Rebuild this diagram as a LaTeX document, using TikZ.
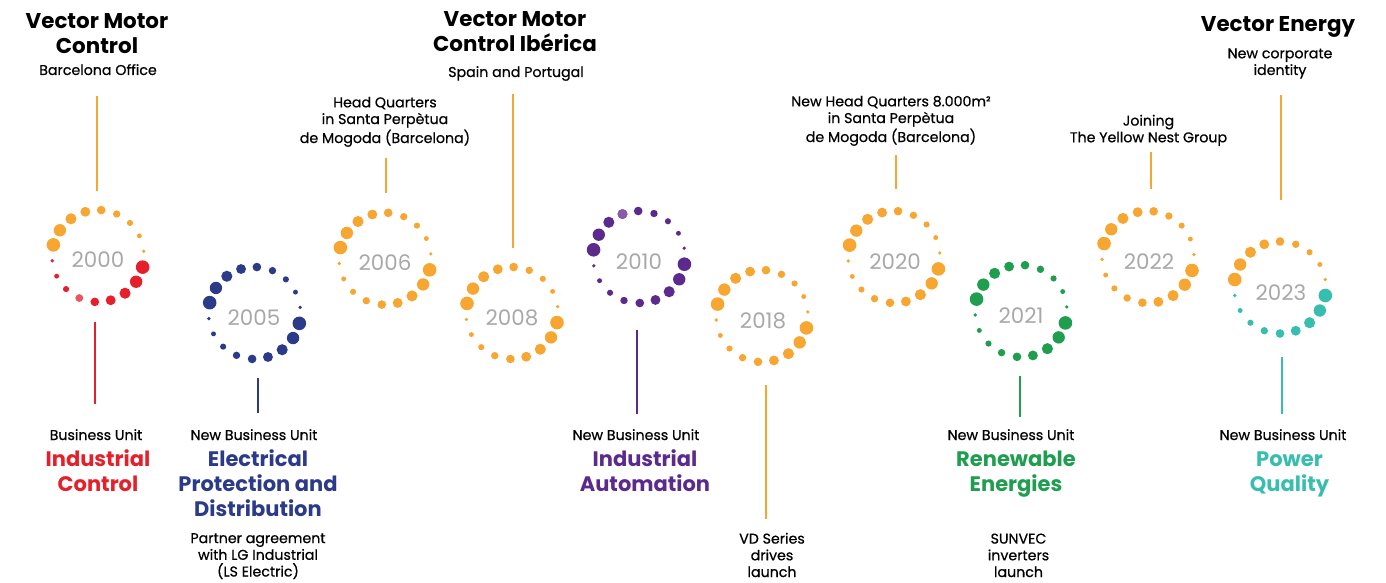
\documentclass[tikz,border=0pt]{standalone}
\usepackage{fontspec}
\setmainfont{Poppins}
\newfontfamily\medfont[FakeBold=0.6]{Poppins}
\definecolor{vorange}{HTML}{F8A632}
\definecolor{vred}{HTML}{E5202B}
\definecolor{vredlight}{HTML}{EC5560}
\definecolor{vblue}{HTML}{2C3A8A}
\definecolor{vpurple}{HTML}{5B2A8C}
\definecolor{vpurplelight}{HTML}{8A5CA8}
\definecolor{vgreen}{HTML}{1E9E4E}
\definecolor{vteal}{HTML}{37BEAF}
\definecolor{vgray}{HTML}{A8A8A8}
\newcommand\dotring[5]{%
  \foreach \i in {0,...,8}{%
    \fill[#3] ({#1+46*cos(#5-20*\i)},{#2-46*sin(#5-20*\i)}) circle[radius={(6.8-0.62*\i)*0.5pt}];
    \fill[#4] ({#1+46*cos(#5-180-20*\i)},{#2-46*sin(#5-180-20*\i)}) circle[radius={(6.8-0.62*\i)*0.5pt}];
  }}
\begin{document}
\begin{tikzpicture}[x=0.5pt,y=-0.5pt,
  title/.style={font=\bfseries\fontsize{10.7}{12.5}\selectfont, align=center, anchor=base, inner sep=0pt},
  sub/.style={font=\medfont\fontsize{7.1}{8.35}\selectfont, align=center, anchor=base, inner sep=0pt},
  unit/.style={font=\bfseries\fontsize{10.5}{12.4}\selectfont, align=center, anchor=base, inner sep=0pt},
  year/.style={font=\fontsize{10.7}{12}\selectfont, text=vgray, inner sep=0pt},
  vline/.style={line width=1.2pt}]
\useasboundingbox (0,0) rectangle (1386,583);

% ---- rings ----
\dotring{98}{256}{vorange}{vred}{166}
\fill[vredlight] ({98+46*cos(166-180-100)},{256-46*sin(166-180-100)}) circle[radius={(6.8-0.62*5)*0.5pt}];
\dotring{254.5}{313}{vblue}{vblue}{167}
\dotring{385}{258.7}{vorange}{vorange}{166}
\dotring{512}{313}{vorange}{vorange}{168}
\dotring{639}{257}{vpurple}{vpurple}{171}
\fill[vpurplelight] ({639+46*cos(171-60)},{257-46*sin(171-60)}) circle[radius={(6.8-0.62*3)*0.5pt}];
\dotring{762}{316}{vorange}{vorange}{165}
\dotring{894}{257}{vorange}{vorange}{165}
\dotring{1021}{311}{vgreen}{vgreen}{165}
\dotring{1148}{257}{vorange}{vorange}{163}
\dotring{1280}{287.5}{vorange}{vteal}{170}

% ---- years ----
\node[year] (y2000) at (98,260) {2000};
\node[year] (y2005) at (254,318) {2005};
\node[year] (y2006) at (385,263) {2006};
\node[year] (y2008) at (512,318) {2008};
\node[year] (y2010) at (639,261.5) {2010};
\node[year] (y2018) at (763,321) {2018};
\node[year] (y2020) at (895,261.5) {2020};
\node[year] (y2021) at (1021,316) {2021};
\node[year] (y2022) at (1149,262) {2022};
\node[year] (y2023) at (1281,292.5) {2023};

% ---- top texts (anchor = baseline of last line) ----
\node[title] (t2000) at (97,54) {Vector Motor\\Control};
\node[sub] (s2000) at (98,75) {Barcelona Office};
\node[title] (t2008) at (515,51.5) {Vector Motor\\Control Ibérica};
\node[sub] (s2008) at (516,77) {Spain and Portugal};
\node[title] (t2023) at (1278,31.5) {Vector Energy};
\node[sub] (s2023) at (1280,75) {New corporate\\identity};
\node[sub] (s2006) at (385,143) {Head Quarters\\in Santa Perpètua\\de Mogoda (Barcelona)};
\node[sub] (s2020) at (891,142) {New Head Quarters 8.000m²\\in Santa Perpètua\\de Mogoda (Barcelona)};
\node[sub] (s2022) at (1148.5,142.3) {Joining\\The Yellow Nest Group};

% ---- bottom texts ----
\node[sub] (b2000) at (96,440) {Business Unit};
\node[unit,text=vred] (u2000) at (98,491.5) {Industrial\\Control};
\node[sub] (b2005) at (254,440) {New Business Unit};
\node[unit,text=vblue] (u2005) at (258,516) {Electrical\\Protection and\\Distribution};
\node[sub] (p2005) at (258,576.5) {Partner agreement\\with LG Industrial\\(LS Electric)};
\node[sub] (b2010) at (636,440) {New Business Unit};
\node[unit,text=vpurple] (u2010) at (645,491.5) {Industrial\\Automation};
\node[sub] (p2018) at (772,577) {VD Series\\drives\\launch};
\node[sub] (b2021) at (1011,440) {New Business Unit};
\node[unit,text=vgreen] (u2021) at (1016,491.5) {Renewable\\Energies};
\node[sub] (p2021) at (1018.5,577) {SUNVEC\\inverters\\launch};
\node[sub] (b2023) at (1283,440) {New Business Unit};
\node[unit,text=vteal] (u2023) at (1289.5,491.5) {Power\\Quality};

% ---- connector lines ----
\coordinate (la2000) at (97,96);   \coordinate (lb2000) at (97,191);
\coordinate (lc2000) at (95,322);  \coordinate (ld2000) at (95,404);
\coordinate (lc2005) at (258,378); \coordinate (ld2005) at (258,413);
\coordinate (la2006) at (386,158); \coordinate (lb2006) at (386,193);
\coordinate (la2008) at (513,94);  \coordinate (lb2008) at (513,248);
\coordinate (lc2010) at (637,330); \coordinate (ld2010) at (637,414);
\coordinate (lc2018) at (766,385); \coordinate (ld2018) at (766,519);
\coordinate (la2020) at (896,155); \coordinate (lb2020) at (896,189);
\coordinate (lc2021) at (1020,376);\coordinate (ld2021) at (1020,417);
\coordinate (la2022) at (1151,152);\coordinate (lb2022) at (1151,189);
\coordinate (la2023) at (1281,95); \coordinate (lb2023) at (1281,200);
\coordinate (lc2023) at (1282,357);\coordinate (ld2023) at (1282,414);
\draw[vline,vorange] (la2000) -- (lb2000);
\draw[vline,vred] (lc2000) -- (ld2000);
\draw[vline,vblue] (lc2005) -- (ld2005);
\draw[vline,vorange] (la2006) -- (lb2006);
\draw[vline,vorange] (la2008) -- (lb2008);
\draw[vline,vpurple] (lc2010) -- (ld2010);
\draw[vline,vorange] (lc2018) -- (ld2018);
\draw[vline,vorange] (la2020) -- (lb2020);
\draw[vline,vgreen] (lc2021) -- (ld2021);
\draw[vline,vorange] (la2022) -- (lb2022);
\draw[vline,vorange] (la2023) -- (lb2023);
\draw[vline,vteal] (lc2023) -- (ld2023);
\end{tikzpicture}
\end{document}
